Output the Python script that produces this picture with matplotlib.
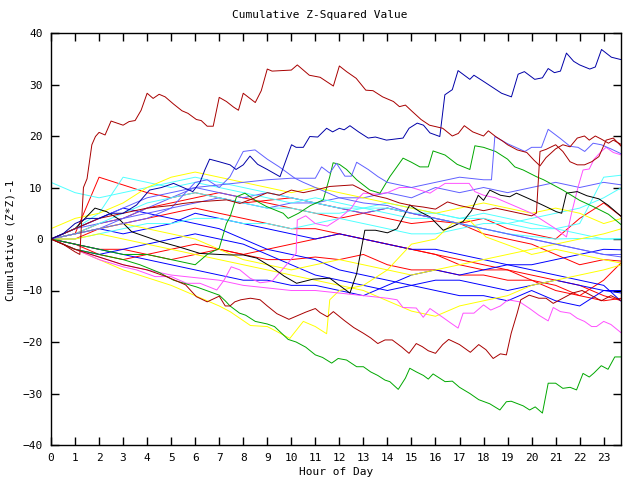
import matplotlib
matplotlib.use('Agg')
import matplotlib.pyplot as plt

# hour grid for the coarse (cluster) series
hours = [0, 1, 2, 3, 4, 5, 6, 7, 8, 9, 10, 11, 12, 13, 14, 15, 16, 17, 18, 19, 20, 21, 22, 23, 23.75]

# ---- prominent series (irregular hour knots) ----
darkred_top_h = [0, 0.5, 1.0, 1.2, 1.35, 1.5, 1.7, 1.85, 2.0, 2.25, 2.5, 3.0, 3.25, 3.5, 3.75, 4.0, 4.25, 4.5, 4.75,
                 5.1, 5.45, 5.7, 6.05, 6.25, 6.5, 6.75, 7.0, 7.3, 7.6, 7.8, 8.0, 8.5, 8.75, 9.0, 9.2, 10.0, 10.25,
                 10.75, 11.2, 11.75, 12.0, 12.3, 12.7, 13.1, 13.4, 13.8, 14.25, 14.5, 14.75, 15.0, 15.4, 15.75,
                 16.3, 16.7, 16.95, 17.2, 17.55, 18.0, 18.2, 18.5, 18.8, 19.0, 19.4, 19.8, 20.1, 20.35, 20.6,
                 21.0, 21.3, 21.6, 21.9, 22.2, 22.4, 22.65, 22.9, 23.2, 23.4, 23.75]
darkred_top_v = [0, -1, -2.5, -3, 10, 11.7, 18.3, 19.9, 20.7, 20.2, 22.9, 22.1, 22.8, 23.0, 25.0, 28.3, 27.3, 28.1, 27.6,
                 26.2, 24.9, 24.4, 23.2, 23.0, 21.9, 21.9, 27.5, 26.7, 25.6, 25.0, 28.3, 26.5, 28.8, 33.0, 32.6, 32.8,
                 33.8, 31.8, 31.4, 29.7, 33.6, 32.5, 31.2, 28.9, 28.8, 27.6, 26.7, 25.7, 26.0, 24.9, 23.2, 22.1,
                 21.5, 20.0, 20.5, 22.0, 20.8, 20.0, 21.0, 19.9, 19.0, 18.3, 17.3, 16.8, 15.3, 14.2, 15.8,
                 17.5, 18.3, 17.9, 19.6, 20.0, 19.2, 20.0, 19.4, 18.6, 19.2, 18.3]

darkred_low_h = [0, 1, 2, 3, 4, 4.8, 5.6, 6.05, 6.5, 7.0, 7.25, 7.45, 7.65, 7.9, 8.3, 8.7, 9.0, 9.4, 9.9, 10.3, 10.6,
                 11.0, 11.2, 11.5, 11.75, 12.2, 12.6, 13.0, 13.3, 13.6, 13.9, 14.2, 14.6, 14.9, 15.2, 15.45, 15.7,
                 16.0, 16.3, 16.55, 17.0, 17.45, 17.8, 18.1, 18.4, 18.7, 18.95, 19.15, 19.4, 19.55, 19.9, 20.3,
                 20.6, 20.9, 21.3, 21.7, 22.1, 22.5, 22.9, 23.3, 23.75]
darkred_low_v = [0, -2, -3.5, -5, -6, -7.3, -8.9, -11.2, -12.2, -11.1, -13.0, -13.0, -12.2, -11.8, -11.5, -11.8, -13,
                 -14.5, -15.6, -14.8, -14.2, -13.5, -14.3, -15.1, -14.1, -15.8, -17.2, -18.3, -19.2, -20.3, -19.6,
                 -19.6, -21, -22.2, -20.3, -20.9, -21.7, -22.2, -20.5, -19.5, -20.5, -22.0, -20.5, -21.5, -23.2,
                 -22.3, -22.5, -18.3, -14.4, -11.8, -10.9, -11.5, -11.5, -12.5, -11.5, -10.5, -10, -11, -12, -11,
                 -12]

darkred_mid_h = [0, 1, 2, 3, 4, 5, 5.5, 6.06, 7.31, 7.86, 8.5, 9, 9.5, 10, 10.5, 11, 11.6, 12.56, 13.4, 13.96, 14.5,
                 15, 15.5, 16, 16.5, 17, 17.5, 18, 18.5, 19, 19.5, 20.0, 20.2, 20.35, 20.6, 21.0, 21.3, 21.6, 21.9,
                 22.2, 22.5, 22.8, 23.1, 23.4, 23.75]
darkred_mid_v = [0, 2, 4, 5, 6, 6.5, 6.9, 7.2, 7.6, 6.9, 8, 9, 8.5, 9.5, 9, 9.5, 10.2, 10.5, 8.5, 7.9, 7, 6.5, 6.2,
                 5.8, 7.2, 6.5, 6, 5.5, 6, 5.5, 5, 4.5, 5, 17, 17.4, 18.3, 17.0, 15.0, 14.4, 14.4, 15.0, 16.0, 19.2,
                 19.6, 17.9]

green_low_h = [0, 1, 2, 3, 3.7, 4.5, 5.1, 6.05, 7.0, 7.25, 7.45, 7.85, 8.1, 8.5, 9.0, 9.3, 9.87, 10.2, 10.6, 11.0,
               11.3, 11.68, 11.95, 12.3, 12.72, 13.0, 13.3, 13.6, 13.9, 14.1, 14.45, 14.75, 14.93, 15.2, 15.5, 15.7,
               15.9, 16.4, 16.7, 17.0, 17.43, 17.8, 18.26, 18.68, 18.95, 19.15, 19.65, 19.92, 20.15, 20.45, 20.69,
               21.0, 21.3, 21.6, 21.87, 22.14, 22.4, 22.6, 22.9, 23.18, 23.46, 23.75]
green_low_v = [0, -2, -3, -4, -5, -6.5, -8, -9.3, -10.9, -12.0, -13.0, -14.4, -14.8, -16, -16.5, -17.0, -19.5, -20,
               -21, -22.5, -23.0, -24.1, -23.2, -23.5, -24.8, -24.8, -25.8, -26.5, -27.4, -27.7, -29.2, -27, -25.1,
               -25.8, -26.5, -27.2, -26.2, -27.7, -27.6, -28.8, -30, -31.2, -32.0, -33.2, -31.6, -31.5, -32.4, -33.2,
               -32.6, -33.8, -28.0, -28.0, -29.0, -28.8, -29.3, -26.1, -26.8, -26.0, -24.6, -25.3, -22.9, -22.9]

darkblue_top_h = [0, 0.5, 1, 1.5, 2, 2.5, 3, 3.56, 4.1, 4.6, 5.1, 5.5, 5.9, 6.2, 6.4, 6.6, 7.0, 7.45, 7.7, 8.0, 8.28,
                  8.6, 9.0, 9.53, 10.01, 10.2, 10.5, 10.77, 11.1, 11.47, 11.72, 12.0, 12.2, 12.44, 12.8, 13.2, 13.5,
                  13.96, 14.65, 14.9, 15.24, 15.5, 15.77, 16.18, 16.39, 16.7, 16.94, 17.43, 17.6, 18.0, 18.75, 19.16,
                  19.44, 19.7, 20.13, 20.45, 20.69, 20.95, 21.2, 21.45, 21.75, 22.0, 22.42, 22.65, 22.91, 23.32, 23.75]
darkblue_top_v = [0, 1, 3, 4, 4, 5, 5, 6.6, 9.5, 10, 10.8, 10, 9.2, 11, 13.4, 15.5, 15, 14.4, 13.5, 14.4, 16.1,
                  14.5, 13.5, 12.1, 18.3, 17.8, 17.8, 19.9, 19.8, 21.5, 20.8, 21.5, 21.2, 22.0, 20.8, 19.6, 19.8,
                  19.2, 19.6, 21.5, 22.5, 22.1, 20.6, 19.9, 28.0, 29.0, 32.7, 31.0, 31.8, 30.6, 28.3, 27.6,
                  32.0, 32.5, 31.0, 31.3, 33.1, 32.3, 32.6, 36.1, 34.5, 33.8, 33.0, 33.4, 36.8, 35.3, 34.8]

lightblue_a_h = [0, 1, 2, 3, 4, 5, 5.6, 6.0, 6.5, 7.0, 7.45, 8.0, 8.49, 9.0, 9.5, 10.15, 10.5, 11, 12, 13, 14, 15,
                 16, 17, 18, 19, 20, 21, 22, 23, 23.75]
lightblue_a_v = [0, 1, 2, 3, 4, 6, 9, 11, 11.5, 10, 12.1, 17, 17.3, 15.5, 14, 11.8, 11, 10, 8, 7, 6.5, 5, 4, 3, 2,
                 1, 0, -1, -2, -3, -3.5]

lightblue_b_h = [0, 1, 2, 3, 4, 5, 6, 7, 8, 9, 10, 11, 11.26, 11.6, 11.88, 12.23, 12.5, 12.72, 13.2, 13.61, 14, 15,
                 16, 17, 18, 18.33, 18.47, 19, 19.72, 20, 20.41, 20.69, 21.2, 21.6, 21.93, 22.21, 22.56, 22.9,
                 23.3, 23.75]
lightblue_b_v = [0, 2, 4, 6, 8, 9, 10, 10.5, 11, 11.5, 11.8, 11.8, 14, 12.8, 14.7, 12.2, 12.2, 14.9, 13.5, 12.1, 11,
                 10, 11, 12, 11.5, 11.5, 19.9, 18.5, 17, 17.8, 17.8, 21.3, 19.5, 18, 17.8, 17, 18.6, 18.3, 17.5, 16.5]

green_mid_h = [0, 1, 2, 3, 4, 5, 6, 6.5, 7.0, 7.3, 7.45, 7.72, 8.07, 8.5, 8.97, 9.66, 9.87, 10.3, 10.8, 11.33, 11.6,
               11.74, 12.0, 12.3, 12.72, 13.27, 13.69, 14.1, 14.3, 14.65, 15.0, 15.35, 15.7, 15.9, 16.4, 16.9,
               17.43, 17.64, 18.0, 18.5, 19.0, 19.3, 19.65, 20.2, 20.5, 21.3, 22.0, 22.56, 23.2, 23.75]
green_mid_v = [0, -1, -2, -3, -3, -4, -5, -3, -1.8, 3, 4.3, 8.2, 8.9, 7.5, 6.3, 5.0, 4.0, 5, 6.5, 7.6, 12.1, 14.8,
               14.5, 13.5, 11.5, 9.5, 8.9, 12.1, 13.4, 15.7, 14.9, 14.0, 14.0, 17.1, 16.3, 14.5, 13.5, 18.1, 17.8,
               17.0, 15.5, 14.0, 13.4, 12.1, 11.5, 9.5, 7.5, 6.3, 4.8, 2.7]

black_h = [0, 0.5, 1, 1.83, 2.32, 2.87, 3.36, 3.98, 4.53, 5.3, 6.2, 7.0, 7.45, 8.0, 8.56, 9.2, 9.7, 10.22, 10.9,
           11.6, 12.0, 12.44, 12.72, 13.06, 13.5, 14.0, 14.4, 14.93, 15.35, 15.77, 16.32, 16.7, 17.15, 17.5, 17.78,
           18.0, 18.26, 18.7, 19.09, 19.37, 19.9, 20.5, 21.03, 21.25, 21.45, 21.9, 22.3, 22.8, 23.2, 23.75]
black_v = [0, 1, 2, 6, 5.3, 3.7, 1.4, 0.4, -0.5, -1.5, -2.8, -3.0, -3.1, -3.1, -3.7, -5.5, -7.2, -8.6, -7.8,
           -7.6, -9, -10.5, -6.7, 1.7, 1.7, 1.2, 2, 6.6, 5.3, 4.3, 1.7, 2.4, 3.4, 5.5, 8.5, 7.5, 9.5, 8.5, 8.2,
           8.9, 7.8, 6.5, 5.3, 5.0, 8.9, 9.2, 8.4, 7.8, 6.5, 4.3]

magenta_a_h = [0, 1, 2, 3, 4, 5, 6, 7, 8, 9, 10, 11, 12, 13, 14, 14.4, 14.65, 15.2, 15.49, 15.77, 16.3, 16.6, 16.94,
               17.15, 17.6, 18.0, 18.3, 18.7, 19.02, 19.5, 19.92, 20.3, 20.69, 20.9, 21.2, 21.6, 21.9, 22.2, 22.5,
               22.7, 23.0, 23.3, 23.75]
magenta_a_v = [0, -2, -3.5, -5, -6, -7, -7.5, -8, -9, -9.5, -10, -10, -10.5, -11, -11.5, -11.8, -13.3, -13.4, -15.2,
               -13.5, -15.2, -16.2, -17.3, -14.4, -14.4, -12.8, -13.8, -13.0, -11.8, -12.2, -13.5, -14.8, -15.9,
               -13.3, -14.1, -14.4, -15.4, -16.0, -17.0, -17.0, -16.0, -16.6, -18.3]

magenta_b_h = [0, 1, 2, 3, 3.56, 4.33, 5, 5.64, 6.2, 6.9, 7.2, 7.5, 7.86, 8.28, 8.7, 9.2, 9.8, 10.2, 10.25, 10.6, 11,
               11.5, 12, 12.5, 12.72, 13, 13.5, 14, 14.5, 15, 15.5, 15.77, 16.4, 17.4, 17.64, 18, 18.5, 19, 19.5,
               20, 20.5, 21, 21.45, 21.66, 21.94, 22.14, 22.4, 22.6, 22.9, 23.1, 23.4, 23.75]
magenta_b_v = [0, -2, -4, -5.4, -6, -7.3, -7.3, -8.6, -8.6, -9.9, -8, -5.4, -6, -7.6, -8.5, -8.2, -5, -2.8, 3.7, 4.5,
               3, 2.5, 4, 6, 7.6, 8.9, 8.7, 9, 10, 10, 9.3, 8.9, 10.8, 10.8, 9.2, 8.5, 8, 7, 6, 5, 3.5, 2, 0.4, 5,
               10.2, 13.4, 13.6, 15.5, 17, 17.8, 16.8, 16.3]

yellow_b_h = [0, 1, 2, 3, 4, 5, 6, 7, 7.45, 8.3, 9, 9.94, 10.5, 11, 11.47, 11.6, 12, 13, 14, 15, 16, 16.7, 17.4,
              18.1, 18.8, 19.5, 20, 21, 22, 23, 23.75]
yellow_b_v = [0, -2, -4, -6, -7.5, -9, -11, -13, -14.1, -16.8, -17, -19.3, -16, -17, -18.4, -11.8, -10, -9, -6, -1,
              0, 3, 3.7, 0.4, -0.8, -2, -3, -2, -3, -4, -4.7]

# ---- cluster series on the hourly grid ----
red_a = [0, 1, 12, 10.5, 9, 8, 9, 8, 7, 7.5, 8, 7, 6, 5, 4, 3, 3.5, 3, 1, 0, -1, -3, -5, -4, -4.3]
red_b = [0, 0, 2, 3, 4, 5, 6, 5, 4, 3, 2, 2, 1, 0, -1, -2, -3, -5, -6, -6, -7, -8, -9, -11, -12]
red_c = [0, 1, 3, 4, 6, 7, 8, 9, 8, 7, 6, 5, 4, 5, 6, 5, 4, 3, 4, 2, 1, 0, 4, 7, 4.3]
red_d = [0, -1, -2, -2, -3, -4, -3, -2, -3, -4, -4, -3.5, -4, -3, -5, -6, -6, -7, -7, -8, -8, -9, -11, -8, -4.5]
red_e = [0, -1, -3, -4, -3, -2, -1, -2, -3, -2, -1, 0, 1, 0, -1, -2, -3, -4, -5, -6, -8, -10, -11, -12, -11.5]
blue_a = [0, 2, 4, 6, 5, 4, 3, 2, 0, -2, -3, -4, -6, -7, -8, -9, -10, -11, -11, -12, -10, -12, -13, -10, -10]
blue_b = [0, -1, -2, -3, -4, -5, -6, -7, -8, -8, -9, -9, -10, -11, -9, -7, -6, -7, -6, -5, -5, -4, -3, -2, -2.1]
blue_c = [0, 1, 2, 1, 2, 3, 5, 4, 3, 2, 1, 0, 1, 0, -1, -2, -2, -3, -4, -5, -6, -7, -8, -9, -12.2]
blue_d = [0, -2, -3, -2, -1, 0, 1, 0, -1, -3, -5, -7, -8, -9, -10, -9, -8, -8, -9, -10, -9, -8, -9, -10, -10.5]
lightblue_c = [0, 2, 3, 4, 5, 6, 7, 8, 7, 6, 7, 7, 8, 8, 9, 8, 10, 9, 10, 9, 10, 11, 10, 11, 10.5]
lightblue_d = [0, 1, 2, 4, 6, 8, 10, 9, 8, 9, 8, 7, 6, 5, 6, 5, 4, 3, 2, 1, 0, -1, -2, -3, -3]
cyan_a = [11, 9, 8, 9, 10, 11, 12, 11, 10, 9, 8, 7, 6, 6, 5, 4, 4, 3, 2, 1, 0.5, 0, 0.1, 0, 0.1]
cyan_b = [0, 1, 3, 5, 7, 8, 9, 8, 7, 6, 6, 5, 5, 6, 6, 5, 5, 4, 4, 3, 2, 2, 3, 12, 12.4]
cyan_c = [0, 0, 1, 2, 3, 3, 4, 4, 3, 3, 2, 3, 4, 3, 2, 1, 1, 2, 3, 3, 4, 5, 6, 8, 10]
cyan_d = [0, 2, 5, 12, 11, 10, 11, 10, 9, 8, 7, 8, 7, 6, 7, 6, 5, 4, 5, 4, 3, 2, 1, 0, 0]
yellow_a = [2, 4, 5, 7, 10, 12, 13, 12, 11, 10, 9, 10, 9, 8, 7, 6, 5, 6, 7, 6, 5, 6, 5, 3, 4]
yellow_c = [0, 0, 1, 0, -1, -2, -3, -4, -5, -6, -7, -8, -9, -10, -12, -14, -15, -13, -12, -11, -9, -8, -7, -6, -5]
yellow_e = [0, 1, 2, 3, 2, 1, 0, -2, -4, -5, -6, -5, -4, -5, -6, -7, -6, -5, -4, -3, -2, -1, 0, 1, 2]

RED, DRED, GREEN, BLUE, DBLUE = '#ff0000', '#a80000', '#00a800', '#0000ff', '#0000a8'
LBLUE, MAG, CYAN, YEL, BLK = '#6060ff', '#ff50ff', '#50ffff', '#ffff00', '#000000'

fig = plt.figure(figsize=(6.4, 4.8), dpi=100)
ax = fig.add_axes([51 / 640, 35 / 480, 570 / 640, 412 / 480])

lw = 0.7
for vals, c in [(red_a, RED), (red_b, RED), (red_c, RED), (red_d, RED), (red_e, RED), (blue_a, BLUE),
                (blue_b, BLUE), (blue_c, BLUE), (blue_d, BLUE), (lightblue_c, LBLUE), (lightblue_d, LBLUE),
                (cyan_a, CYAN), (cyan_b, CYAN), (cyan_c, CYAN), (cyan_d, CYAN),
                (yellow_a, YEL), (yellow_c, YEL), (yellow_e, YEL)]:
    ax.plot(hours, vals, color=c, lw=lw)

for h, v, c in [(yellow_b_h, yellow_b_v, YEL), (magenta_a_h, magenta_a_v, MAG), (magenta_b_h, magenta_b_v, MAG),
                (black_h, black_v, BLK), (green_mid_h, green_mid_v, GREEN), (lightblue_a_h, lightblue_a_v, LBLUE),
                (lightblue_b_h, lightblue_b_v, LBLUE), (green_low_h, green_low_v, GREEN),
                (darkred_mid_h, darkred_mid_v, DRED), (darkred_low_h, darkred_low_v, DRED),
                (darkblue_top_h, darkblue_top_v, DBLUE), (darkred_top_h, darkred_top_v, DRED)]:
    ax.plot(h, v, color=c, lw=lw)

ax.set_xlim(0, 23.72)
ax.set_ylim(-40, 40)
ax.set_xticks(range(24))
ax.set_yticks(range(-40, 41, 10))
ax.tick_params(direction='in', length=6, width=1, top=True, right=True, labelsize=8, pad=6)
for lab in ax.get_xticklabels() + ax.get_yticklabels():
    lab.set_family('DejaVu Sans Mono')
for s in ax.spines.values():
    s.set_linewidth(1)

fig.text(0.5, 1 - 15 / 480, 'Cumulative Z-Squared Value', ha='center', va='center', family='DejaVu Sans Mono', fontsize=8)
fig.text(336 / 640, 1 - 472 / 480, 'Hour of Day', ha='center', va='center', family='DejaVu Sans Mono', fontsize=8)
fig.text(11 / 640, 1 - 240 / 480, 'Cumulative (Z*Z)-1', ha='center', va='center', rotation=90,
         family='DejaVu Sans Mono', fontsize=8)

fig.savefig('out.png', dpi=100)
